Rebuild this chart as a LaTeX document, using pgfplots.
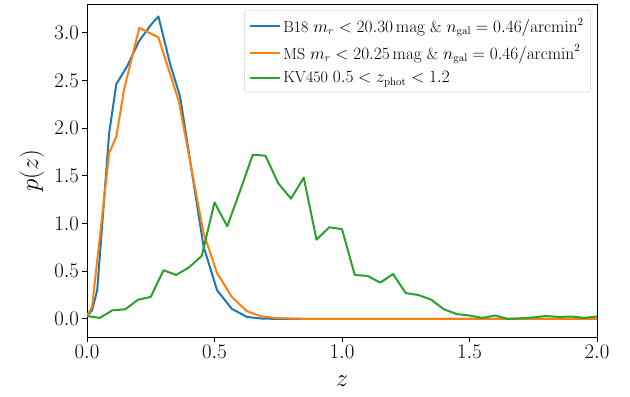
\documentclass[border=0pt]{standalone}
\usepackage{pgfplots}
\pgfplotsset{compat=1.18}
\definecolor{tabblue}{HTML}{1F77B4}
\definecolor{taborange}{HTML}{FF7F0E}
\definecolor{tabgreen}{HTML}{2CA02C}
\begin{document}
\begin{tikzpicture}
\begin{axis}[
  scale only axis, width=510pt, height=333pt,
  xmin=0, xmax=2, ymin=-0.19, ymax=3.30,
  xtick={0,0.5,1,1.5,2}, ytick={0,0.5,1,1.5,2,2.5,3},
  tick align=outside, major tick length=4.8pt,
  tick style={black, line width=0.8pt},
  axis line style={line width=0.8pt},
  xtick pos=bottom, ytick pos=left,
  /pgf/number format/.cd, fixed, fixed zerofill, precision=1, /pgfplots/.cd,
  tick label style={font=\fontsize{22.5}{27}\selectfont},
  xticklabel style={inner sep=3pt},
  yticklabel style={inner sep=3pt},
  label style={font=\fontsize{33}{40}\selectfont},
  xlabel={$z$}, ylabel={$p(z)$},
  xlabel style={at={(axis description cs:0.5,-0.132)}, anchor=center},
  ylabel style={at={(axis description cs:-0.108,0.5)}, anchor=center},
  legend cell align=left,
  legend style={at={(axis description cs:0.988,0.982)}, anchor=north east,
    font=\fontsize{16}{19}\selectfont, draw=black!20, rounded corners=3pt,
    fill=white, fill opacity=0.8, text opacity=1, inner xsep=5pt, inner ysep=6pt,
    row sep=7pt},
  legend image code/.code={\draw[#1] (0pt,0pt) -- (30pt,0pt);},
  every axis plot/.append style={line width=2pt, line join=round, no markers},
]
\coordinate (bl) at (rel axis cs:0,0);
\coordinate (tr) at (rel axis cs:1,1);
\addplot[tabblue] coordinates {
(0.00,0.03) (0.02,0.09) (0.04,0.30) (0.087,1.95) (0.115,2.46) (0.158,2.65)
(0.204,2.91) (0.25,3.08) (0.28,3.17) (0.326,2.67) (0.365,2.33) (0.457,0.76)
(0.51,0.30) (0.568,0.105) (0.627,0.02) (0.686,0.003) (0.745,0.0) (0.80,0.0)
(1.0,0.0) (1.5,0.0) (2.0,0.0)
};
\addlegendentry{B18 $m_r<20.30\,\mathrm{mag}$ \& $n_{\mathrm{gal}}=0.46/\mathrm{arcmin}^2$}
\addplot[taborange] coordinates {
(0.00,0.03) (0.02,0.13) (0.087,1.74) (0.115,1.91) (0.145,2.40) (0.205,3.05)
(0.28,2.95) (0.36,2.28) (0.457,0.90) (0.51,0.48) (0.568,0.23) (0.627,0.08)
(0.686,0.025) (0.745,0.008) (0.80,0.003) (0.86,0.0) (1.0,0.0) (1.5,0.0) (2.0,0.0)
};
\addlegendentry{MS $m_r<20.25\,\mathrm{mag}$ \& $n_{\mathrm{gal}}=0.46/\mathrm{arcmin}^2$}
\addplot[tabgreen] coordinates {
(0.00,0.03) (0.05,0.01) (0.10,0.09) (0.15,0.10) (0.20,0.20) (0.25,0.23)
(0.30,0.51) (0.35,0.46) (0.40,0.54) (0.45,0.66) (0.50,1.22) (0.55,0.97)
(0.60,1.34) (0.65,1.72) (0.70,1.71) (0.75,1.42) (0.80,1.26) (0.85,1.48)
(0.90,0.83) (0.95,0.96) (1.00,0.94) (1.05,0.46) (1.10,0.45) (1.15,0.38)
(1.20,0.47) (1.25,0.27) (1.30,0.25) (1.35,0.20) (1.40,0.10) (1.45,0.05)
(1.50,0.035) (1.55,0.01) (1.60,0.035) (1.65,0.0) (1.70,0.005) (1.75,0.015)
(1.80,0.03) (1.85,0.02) (1.90,0.025) (1.95,0.01) (2.00,0.025)
};
\addlegendentry{KV450 $0.5<z_{\mathrm{phot}}<1.2$}
\end{axis}
\pgfresetboundingbox
\path[use as bounding box] ([xshift=-87pt,yshift=-60pt]bl) rectangle ([xshift=33pt,yshift=4pt]tr);
\end{tikzpicture}
\end{document}
